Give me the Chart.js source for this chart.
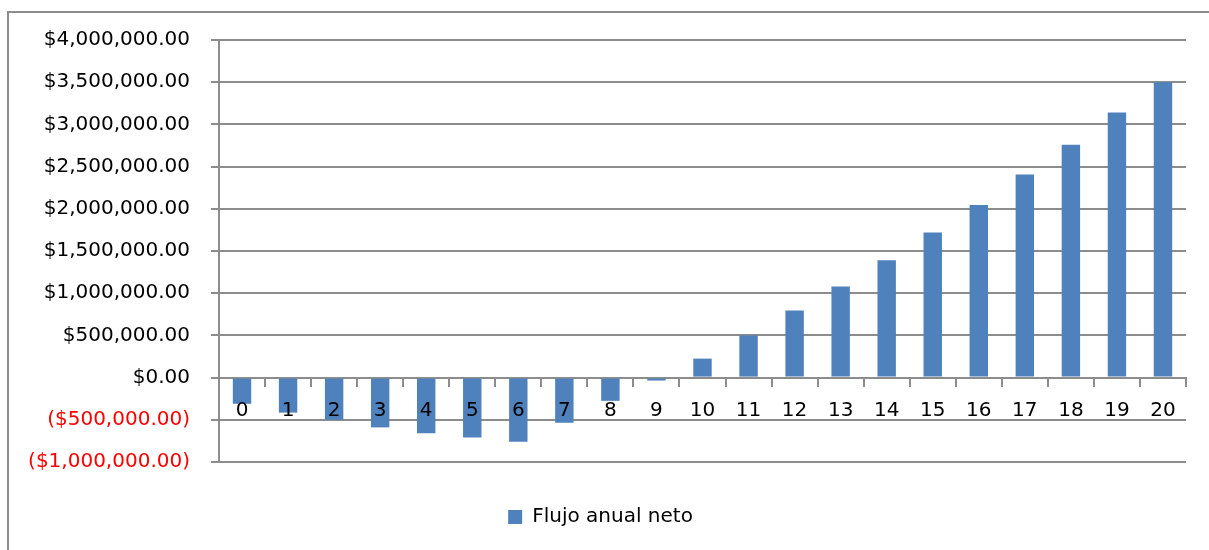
<!DOCTYPE html>
<html>
<head>
<meta charset="utf-8">
<script src="https://cdn.jsdelivr.net/npm/chart.js@4/dist/chart.umd.min.js"></script>
<style>
  html, body { margin: 0; padding: 0; background: #ffffff; }
  #wrap { position: relative; width: 1209px; height: 550px; overflow: hidden; }
  #frame { position: absolute; left: 7px; top: 11px; width: 1300px; height: 700px;
           border-top: 2px solid #8c8c8c; border-left: 2px solid #8c8c8c; }
  #c { position: absolute; left: 0; top: 0; }
</style>
</head>
<body>
<div id="wrap">
  <div id="frame"></div>
  <canvas id="c" width="1209" height="550"></canvas>
</div>
<script>
const categories = ['0','1','2','3','4','5','6','7','8','9','10','11','12','13','14','15','16','17','18','19','20'];
const flujoAnualNeto = [-310000, -415000, -500000, -590000, -660000, -710000, -760000, -535000, -275000, -35000,
  225000, 500000, 795000, 1080000, 1390000, 1720000, 2045000, 2405000, 2760000, 3140000, 3500000];
const seriesName = 'Flujo anual neto';
const yMin = -1000000;
const yMax = 4000000;
const yStep = 500000;

function money(v) {
  const s = '$' + Math.abs(v).toLocaleString('en-US', {minimumFractionDigits: 2, maximumFractionDigits: 2});
  return v < 0 ? '(' + s + ')' : s;
}

const FONT = 'DejaVu Sans';
const GRID = '#8c8c8c';

new Chart(document.getElementById('c'), {
  type: 'bar',
  data: {
    labels: categories,
    datasets: [{
      label: seriesName,
      data: flujoAnualNeto,
      backgroundColor: '#4f81bd',
      borderWidth: 0,
      barPercentage: 0.4,
      categoryPercentage: 1.0
    }]
  },
  options: {
    responsive: false,
    devicePixelRatio: 1,
    animation: false,
    layout: { padding: { left: 15, right: 23, top: 40, bottom: 13 } },
    plugins: {
      legend: {
        position: 'bottom',
        labels: {
          boxWidth: 14, boxHeight: 14, padding: 10,
          color: '#000000',
          font: { family: FONT, size: 20 }
        }
      },
      tooltip: { enabled: false }
    },
    scales: {
      x: {
        position: { y: 0 },
        grid: { display: true, drawOnChartArea: false, drawTicks: true, tickLength: 8, color: GRID, lineWidth: 2, offset: true },
        border: { display: true, color: GRID, width: 2 },
        ticks: { z: 1, color: '#000000', padding: 13, maxRotation: 0, autoSkip: false, font: { family: FONT, size: 20 } }
      },
      xPad: {
        type: 'category',
        axis: 'x',
        position: 'bottom',
        afterFit: (s) => { s.height = 35; },
        grid: { display: false, drawTicks: false },
        border: { display: false },
        ticks: { display: false }
      },
      y: {
        min: yMin, max: yMax,
        afterFit: (s) => { s.width = 204; },
        grid: { color: GRID, lineWidth: 2, drawTicks: true, tickLength: 8 },
        border: { display: true, color: GRID, width: 2 },
        ticks: {
          stepSize: yStep,
          padding: 21,
          font: { family: FONT, size: 20 },
          color: (ctx) => (ctx.tick && ctx.tick.value < 0) ? '#ff0000' : '#000000',
          callback: (v) => money(v)
        }
      }
    }
  }
});
</script>
</body>
</html>
